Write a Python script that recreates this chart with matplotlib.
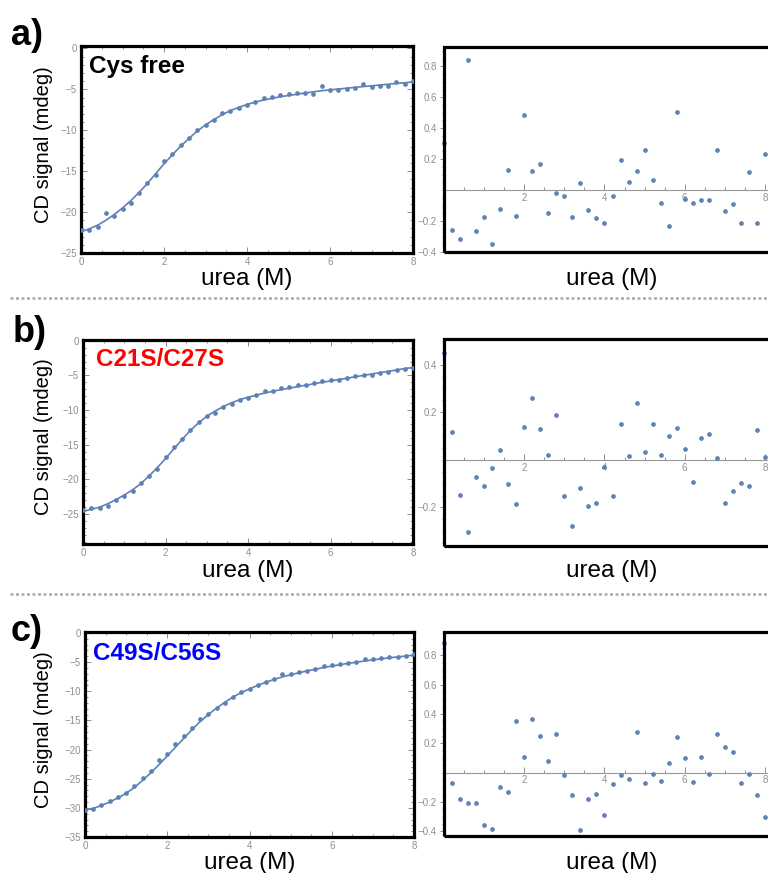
# -*- coding: utf-8 -*-
import matplotlib
matplotlib.use('Agg')
import matplotlib.pyplot as plt
from matplotlib.patches import Rectangle
from matplotlib.ticker import MultipleLocator, FixedLocator
import numpy as np

# концентрация мочевины (M)
urea = [0.0, 0.2, 0.4, 0.6, 0.8, 1.0, 1.2, 1.4, 1.6, 1.8, 2.0, 2.2, 2.4, 2.6,
        2.8, 3.0, 3.2, 3.4, 3.6, 3.8, 4.0, 4.2, 4.4, 4.6, 4.8, 5.0, 5.2, 5.4,
        5.6, 5.8, 6.0, 6.2, 6.4, 6.6, 6.8, 7.0, 7.2, 7.4, 7.6, 7.8, 8.0]

# a) Cys free
cys_free_signal = [-22.2, -22.2, -21.8, -20.1, -20.5, -19.6, -18.9, -17.7, -16.4, -15.5,
                   -13.7, -12.9, -11.8, -11.0, -10.0, -9.3, -8.7, -7.9, -7.6, -7.3,
                   -6.9, -6.5, -6.0, -5.9, -5.7, -5.55, -5.4, -5.4, -5.55, -4.57,
                   -5.02, -5.02, -4.9, -4.78, -4.37, -4.69, -4.53, -4.53, -4.16, -4.29, -3.96]
cys_free_fit = [-22.4, -22.05, -21.6, -21.0, -20.3, -19.5, -18.6, -17.6, -16.5, -15.3,
                -14.1, -13.0, -11.95, -11.0, -10.1, -9.35, -8.7, -8.1, -7.6, -7.2,
                -6.85, -6.55, -6.3, -6.1, -5.9, -5.75, -5.6, -5.45, -5.3, -5.17,
                -5.06, -4.96, -4.86, -4.76, -4.66, -4.57, -4.47, -4.37, -4.28, -4.19, -4.1]
cys_free_resid = [0.306, -0.257, -0.313, 0.838, -0.264, -0.177, -0.351, -0.121, 0.132, -0.170,
                  0.487, 0.126, 0.168, -0.145, -0.019, -0.038, -0.177, 0.043, -0.126, -0.183,
                  -0.215, -0.038, 0.194, 0.055, 0.126, 0.262, 0.068, -0.083, -0.232, 0.506,
                  -0.060, -0.083, -0.064, -0.064, 0.262, -0.134, -0.087, -0.215, 0.117, -0.215, 0.232]

# b) C21S/C27S
c21_signal = [-24.4, -24.1, -24.1, -23.8, -22.9, -22.35, -21.6, -20.5, -19.5, -18.5,
              -16.8, -15.35, -14.1, -12.85, -11.65, -10.9, -10.4, -9.5, -9.1, -8.55,
              -8.2, -7.85, -7.25, -7.2, -6.8, -6.65, -6.4, -6.38, -6.04, -5.8,
              -5.6, -5.66, -5.32, -5.04, -4.94, -4.94, -4.7, -4.46, -4.22, -4.12, -3.88]
c21_fit = [-24.6, -24.3, -24.0, -23.5, -22.9, -22.25, -21.5, -20.6, -19.5, -18.3,
           -17.0, -15.6, -14.25, -12.95, -11.85, -10.9, -10.15, -9.5, -8.95, -8.5,
           -8.15, -7.85, -7.55, -7.3, -7.05, -6.85, -6.62, -6.42, -6.2, -6.0,
           -5.8, -5.6, -5.4, -5.2, -5.0, -4.8, -4.6, -4.42, -4.22, -4.02, -3.85]
c21_resid = [0.449, 0.117, -0.147, -0.305, -0.073, -0.108, -0.036, 0.043, -0.103, -0.186,
             0.137, 0.260, 0.130, 0.022, 0.189, -0.151, -0.277, -0.119, -0.194, -0.182,
             -0.031, -0.151, 0.152, 0.015, 0.241, 0.035, 0.152, 0.020, 0.102, 0.133,
             0.046, -0.095, 0.094, 0.109, 0.007, -0.182, -0.131, -0.098, -0.108, 0.126, 0.011]

# c) C49S/C56S
c49_signal = [-30.3, -30.2, -29.5, -28.9, -28.1, -27.4, -26.2, -24.9, -23.6, -21.8,
              -20.8, -19.0, -17.7, -16.3, -14.7, -13.95, -12.8, -12.1, -11.07, -10.2,
              -9.7, -9.0, -8.5, -7.85, -7.1, -7.05, -6.7, -6.46, -6.17, -5.65,
              -5.48, -5.36, -5.13, -5.02, -4.5, -4.44, -4.33, -4.21, -4.15, -3.92, -3.69]
c49_fit = [-30.4, -30.1, -29.6, -29.0, -28.3, -27.5, -26.5, -25.3, -24.0, -22.6,
           -21.1, -19.6, -18.1, -16.6, -15.2, -14.0, -12.9, -11.9, -11.0, -10.25,
           -9.6, -9.0, -8.45, -7.98, -7.55, -7.18, -6.84, -6.52, -6.23, -5.96,
           -5.7, -5.46, -5.23, -5.02, -4.82, -4.63, -4.45, -4.28, -4.12, -3.96, -3.81]
c49_resid = [0.888, -0.068, -0.178, -0.210, -0.210, -0.358, -0.383, -0.096, -0.130, 0.351,
             0.105, 0.364, 0.251, 0.077, 0.264, -0.016, -0.150, -0.390, -0.178, -0.144,
             -0.292, -0.077, -0.016, -0.043, 0.278, -0.071, -0.009, -0.057, 0.064, 0.244,
             0.098, -0.064, 0.105, -0.009, 0.264, 0.178, 0.144, -0.068, -0.009, -0.150, -0.303]

W, H = 768, 873
BLUE = '#5e81b5'
TICK_GRAY = '#8f8f8f'
FONT = ['Liberation Sans', 'DejaVu Sans']
plt.rcParams['font.family'] = FONT


def px_rect(x0, y0, x1, y1):
    """Прямоугольник в пикселях -> координаты фигуры"""
    return [x0 / W, 1 - y1 / H, (x1 - x0) / W, (y1 - y0) / H]


def ftext(fig, x, y, s, **kw):
    fig.text(x / W, 1 - y / H, s, **kw)


panels = [
    dict(letter='a)', name='Cys free', color='black',
         signal=cys_free_signal, fit=cys_free_fit, resid=cys_free_resid,
         left=(81, 46, 413, 253), right=(444, 47, 777, 252),
         ylim=(-25, 0.3), rlim=(-0.4, 0.925), rticks=[-0.4, -0.2, 0.2, 0.4, 0.6, 0.8],
         letter_xy=(11, 45), name_xy=(89, 73), ylab_y=145, xlab_y=279),
    dict(letter='b)', name='C21S/C27S', color='#ff0000',
         signal=c21_signal, fit=c21_fit, resid=c21_resid,
         left=(83, 340, 413, 544), right=(444, 339, 777, 546),
         ylim=(-29.3, 0.1), rlim=(-0.362, 0.508), rticks=[-0.2, 0.2, 0.4],
         letter_xy=(13, 342), name_xy=(96, 366), ylab_y=437, xlab_y=571),
    dict(letter='c)', name='C49S/C56S', color='#0000ff',
         signal=c49_signal, fit=c49_fit, resid=c49_resid,
         left=(85, 632, 414, 837), right=(444, 632, 777, 836),
         ylim=(-35, 0.15), rlim=(-0.433, 0.96), rticks=[-0.4, -0.2, 0.2, 0.4, 0.6, 0.8],
         letter_xy=(11, 641), name_xy=(93, 660), ylab_y=730, xlab_y=863),
]

fig = plt.figure(figsize=(W / 100, H / 100), dpi=100)

for p in panels:
    # основной график с кривой денатурации
    ax = fig.add_axes(px_rect(*p['left']))
    ax.plot(urea, p['fit'], color=BLUE, lw=1.2, zorder=2)
    ax.plot(urea, p['signal'], 'o', color=BLUE, ms=3.4, mew=0, zorder=3)
    ax.set_xlim(0, 8)
    ax.set_ylim(*p['ylim'])
    ax.xaxis.set_major_locator(MultipleLocator(2))
    ax.xaxis.set_minor_locator(MultipleLocator(0.5))
    ax.yaxis.set_major_locator(MultipleLocator(5))
    ax.yaxis.set_minor_locator(MultipleLocator(1))
    ax.tick_params(which='both', direction='in', top=True, right=True,
                   color=TICK_GRAY, labelcolor=TICK_GRAY, labelsize=7, width=0.7)
    ax.tick_params(which='major', length=4, pad=3)
    ax.tick_params(which='minor', length=2)
    for sp in ax.spines.values():
        sp.set_linewidth(2.3)
        sp.set_color('black')

    # остатки
    rx = fig.add_axes(px_rect(*p['right']))
    rx.plot(urea, p['resid'], 'o', color=BLUE, ms=3.4, mew=0, clip_on=False, zorder=3)
    rx.set_xlim(0, 8.3)
    rx.set_ylim(*p['rlim'])
    rx.spines['top'].set_visible(False)
    rx.spines['right'].set_visible(False)
    rx.spines['bottom'].set_position(('data', 0))
    rx.spines['bottom'].set_color('#999999')
    rx.spines['bottom'].set_linewidth(0.8)
    rx.spines['left'].set_color('#999999')
    rx.spines['left'].set_linewidth(0.8)
    rx.xaxis.set_major_locator(FixedLocator([2, 4, 6, 8]))
    rx.xaxis.set_minor_locator(MultipleLocator(0.5))
    rx.yaxis.set_major_locator(FixedLocator(p['rticks']))
    rx.yaxis.set_minor_locator(MultipleLocator(0.05))
    rx.tick_params(axis='x', which='both', direction='in', color=TICK_GRAY,
                   labelcolor=TICK_GRAY, labelsize=7, width=0.7)
    rx.tick_params(axis='x', which='major', length=4, pad=2)
    rx.tick_params(axis='x', which='minor', length=2.5)
    rx.tick_params(axis='y', which='both', direction='out', color=TICK_GRAY,
                   labelcolor=TICK_GRAY, labelsize=7, width=0.7)
    rx.tick_params(axis='y', which='major', length=3, pad=2)
    rx.tick_params(axis='y', which='minor', length=1.5)
    rx.add_patch(Rectangle((0, 0), 1, 1, transform=rx.transAxes, fill=False,
                           ec='black', lw=2.3, clip_on=False, zorder=5))

    # подписи
    ftext(fig, *p['letter_xy'], p['letter'], fontsize=26, fontweight='bold',
          va='baseline', ha='left')
    ftext(fig, *p['name_xy'], p['name'], fontsize=17.5, fontweight='bold',
          color=p['color'], va='baseline', ha='left')
    ftext(fig, 44, p['ylab_y'], 'CD signal (mdeg)', fontsize=14.5, rotation=90,
          va='center', ha='center')
    lx = (p['left'][0] + p['left'][2]) / 2
    ftext(fig, lx, p['xlab_y'], 'urea (M)', fontsize=17.5, va='center', ha='center')
    ftext(fig, 612, p['xlab_y'], 'urea (M)', fontsize=17.5, va='center', ha='center')

# пунктирные разделители
for y in (298, 594):
    fig.add_artist(plt.Line2D([10 / W, 1], [1 - y / H, 1 - y / H], transform=fig.transFigure,
                              color='#aaaaaa', lw=1.8, linestyle=(0, (1.2, 1.0))))

fig.savefig('out.png', dpi=100)
plt.close(fig)
